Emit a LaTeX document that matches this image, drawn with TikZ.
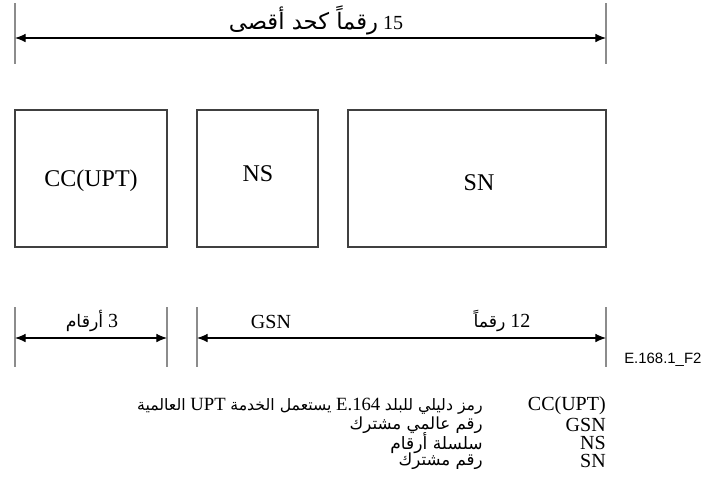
\documentclass[tikz,border=0pt]{standalone}
\usepackage{fontspec}
\usepackage{tikz}
\usetikzlibrary{arrows.meta}
\setmainfont{Liberation Serif}
\newfontfamily\arabicfont[Script=Arabic]{DejaVu Sans}
\newfontfamily\figfont{Liberation Sans}
\TeXXeTstate=1
\newcommand{\ar}[2][12.5]{{\arabicfont\fontsize{#1}{15}\selectfont #2}}

\begin{document}
\begin{tikzpicture}[x=0.75pt,y=-0.75pt,
  box/.style={draw=black!75,line width=0.9pt,inner sep=0pt},
  tick/.style={draw=black!45,line width=0.9pt},
  dim/.style={{Latex[length=8pt,width=6.5pt]}-{Latex[length=8pt,width=6.5pt]},line width=0.8pt},
  txt/.style={font=\fontsize{15}{17}\selectfont,inner sep=0pt},
  big/.style={font=\fontsize{18}{20}\selectfont,inner sep=0pt}]
\useasboundingbox (0,0) rectangle (704,501);
\node[box,minimum width=114pt,minimum height=102.75pt] (cc) at (91,178.5) {};
\node[box,minimum width=90.75pt,minimum height=102.75pt] (ns) at (257.5,178.5) {};
\node[box,minimum width=193.5pt,minimum height=102.75pt] (sn) at (477,178.5) {};
\node[big] (lcc) at (91,181) {CC(UPT)};
\node[big] (lns) at (258,174) {NS};
\node[big] (lsn) at (479,183) {SN};
\coordinate (t1) at (15,3);
\coordinate (b1) at (15,64);
\coordinate (t2) at (606,3);
\coordinate (b2) at (606,64);
\draw[tick] (t1) -- (b1);
\draw[tick] (t2) -- (b2);
\coordinate (m1) at (15,38);
\coordinate (m2) at (606,38);
\draw[dim] (m1) -- (m2);
\node[txt] (top) at (316,20) {\beginR\beginL 15\endL{} \ar[17]{رقماً كحد أقصى}\endR};
\coordinate (u1) at (15,307);
\coordinate (v1) at (15,367);
\coordinate (u2) at (167,307);
\coordinate (v2) at (167,367);
\coordinate (u3) at (197,307);
\coordinate (v3) at (197,367);
\coordinate (u4) at (606,307);
\coordinate (v4) at (606,367);
\draw[tick] (u1) -- (v1);
\draw[tick] (u2) -- (v2);
\draw[tick] (u3) -- (v3);
\draw[tick] (u4) -- (v4);
\coordinate (d1) at (15,338);
\coordinate (d2) at (167,338);
\coordinate (d3) at (197,338);
\coordinate (d4) at (606,338);
\draw[dim] (d1) -- (d2);
\draw[dim] (d3) -- (d4);
\node[txt] (three) at (92,321) {\beginR\beginL 3\endL{} \ar[13]{أرقام}\endR};
\node[txt] (gsn) at (271,322) {GSN};
\node[txt] (twelve) at (502,321) {\beginR\beginL 12\endL{} \ar[13]{رقماً}\endR};
\node[font=\figfont\fontsize{11.2}{13}\selectfont,inner sep=0pt,anchor=west] (fig) at (624,360) {E.168.1\_F2};
\node[txt,anchor=east] (k1) at (606,406) {CC(UPT)};
\node[txt,anchor=east] (k2) at (606,425) {GSN};
\node[txt,anchor=east] (k3) at (606,443) {NS};
\node[txt,anchor=east] (k4) at (606,461) {SN};
\node[font=\fontsize{14}{17}\selectfont,inner sep=0pt,anchor=east] (e1) at (483,406) {\beginR\ar[11.8]{رمز دليلي للبلد} \beginL E.164\endL{} \ar[11.8]{يستعمل الخدمة} \beginL UPT\endL{} \ar[11.8]{العالمية}\endR};
\node[txt,anchor=east] (e2) at (483,425) {\beginR\ar{رقم عالمي مشترك}\endR};
\node[txt,anchor=east] (e3) at (483,443) {\beginR\ar[12.8]{سلسلة أرقام}\endR};
\node[txt,anchor=east] (e4) at (483,461) {\beginR\ar{رقم مشترك}\endR};
\end{tikzpicture}
\end{document}
